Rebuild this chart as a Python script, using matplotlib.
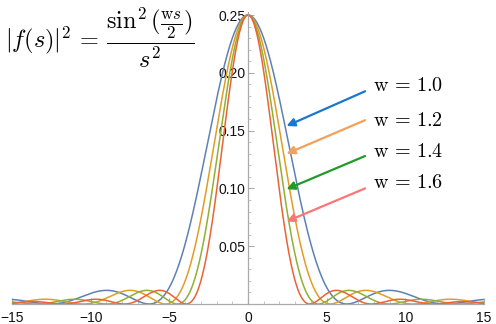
import numpy as np
import matplotlib
matplotlib.use("Agg")
import matplotlib.pyplot as plt
from matplotlib.ticker import MultipleLocator

plt.rcParams["mathtext.fontset"] = "cm"
plt.rcParams["font.family"] = ["Liberation Sans", "DejaVu Sans"]

# ── Data ───────────────────────────────────────────────
w_values = [1.0, 1.2, 1.4, 1.6]
w_labels = ["1.0", "1.2", "1.4", "1.6"]
line_colors = ["#5E81B5", "#E19C24", "#8FB032", "#EB6235"]
arrow_colors = ["#1878CF", "#F5A05A", "#229A2A", "#FF7575"]
x_ticks = [-15, -10, -5, 0, 5, 10, 15]
y_ticks = [0.05, 0.10, 0.15, 0.20, 0.25]

s = np.linspace(-15, 15, 3001)
s[s == 0] = 1e-9

fig = plt.figure(figsize=(4.96, 3.24), dpi=100)
ax = fig.add_axes([12 / 496, 20 / 324, 472 / 496, 292 / 324])

for w, c in zip(w_values, line_colors):
    f2 = np.sin(w * s / 2) ** 2 / (w * s) ** 2
    ax.plot(s, f2, color=c, lw=1.1)

ax.set_xlim(-15, 15)
ax.set_ylim(0, 0.2526)

# ── Mathematica-like axes through the origin ───────────
for side in ["top", "right"]:
    ax.spines[side].set_visible(False)
ax.spines["left"].set_position(("data", 0))
ax.spines["bottom"].set_position(("data", 0))
for side in ["left", "bottom"]:
    ax.spines[side].set_color("#AAAAAA")
    ax.spines[side].set_linewidth(0.9)

ax.set_xticks(x_ticks)
ax.set_xticklabels([f"{t}".replace("-", "\u2212") for t in x_ticks])
ax.set_yticks(y_ticks)
ax.set_yticklabels([f"{t:.2f}" for t in y_ticks])
ax.xaxis.set_minor_locator(MultipleLocator(1))
ax.yaxis.set_minor_locator(MultipleLocator(0.01))
ax.tick_params(axis="both", which="major", direction="in", length=4,
               color="#AAAAAA", labelsize=10, labelcolor="#111111")
ax.tick_params(axis="both", which="minor", direction="in", length=2,
               color="#BBBBBB")
ax.tick_params(axis="x", pad=5)
ax.tick_params(axis="y", pad=2)

# ── Formula ────────────────────────────────────────────
fig.text(0.010, 0.885,
         r"$|f(s)|^2\,=\,\dfrac{\sin^2(\frac{\mathrm{w}s}{2})}{s^2}$",
         fontsize=17.5, va="center", ha="left")

# ── Arrow labels ───────────────────────────────────────
text_y = [0.189, 0.159, 0.132, 0.105]
tip_y = [0.154, 0.130, 0.0993, 0.0714]
tail_y = [0.184, 0.159, 0.128, 0.100]
for lab, c, ty, hy, ly in zip(w_labels, arrow_colors, text_y, tip_y, tail_y):
    ax.annotate("", xy=(2.45, hy), xytext=(7.44, ly),
                arrowprops=dict(arrowstyle="-|>", color=c, lw=1.6,
                                mutation_scale=12, shrinkA=0, shrinkB=0))
    ax.text(7.95, ty, r"$\mathrm{w}\,=\,$" + "$" + lab + "$",
            fontsize=14.5, va="center", ha="left")

fig.savefig("out.png", dpi=100)
